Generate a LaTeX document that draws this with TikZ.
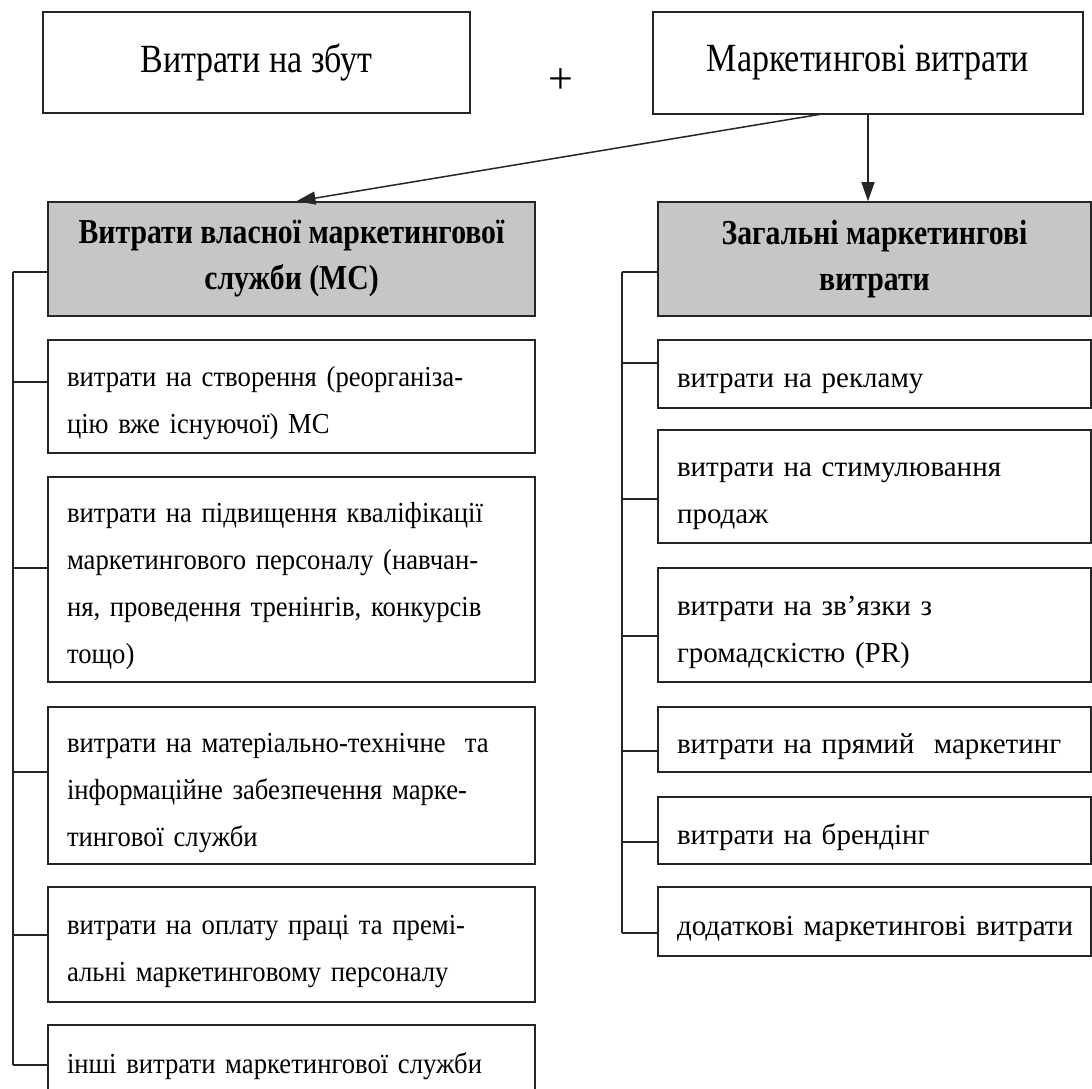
\documentclass[tikz,border=0pt]{standalone}
\usepackage{fontspec}
\setmainfont{Liberation Serif}
\newfontfamily\narrowserif{Liberation Serif}[FakeStretch=0.85]
\newfontfamily\itemnarrow{Liberation Serif}[FakeStretch=0.92]
\usetikzlibrary{arrows.meta,calc}
\definecolor{headgray}{RGB}{198,198,198}
\definecolor{ink}{RGB}{38,38,38}

% one unbreakable line of item text
\newcommand\itemline[1]{\mbox{#1}}

\tikzset{
  box/.style={draw=ink, line width=1.6pt, rectangle, inner sep=0pt},
  topbox/.style={box, font=\narrowserif\fontsize{40}{48}\selectfont, align=center},
  headbox/.style={box, fill=headgray, font=\narrowserif\bfseries\fontsize{35}{46}\selectfont, align=center},
  itembase/.style={box, align=left, inner xsep=19pt,
                   execute at begin node={\rule{0pt}{34pt}}},
  itemL/.style={itembase, font=\itemnarrow\fontsize{29}{47}\selectfont,
                text width=449pt, minimum width=487pt},
  itemR/.style={itembase, font=\fontsize{29}{47}\selectfont,
                text width=395pt, minimum width=433pt},
  link/.style={line width=1.5pt, draw=ink},
  arrowlink/.style={link, -{Triangle[length=19pt,width=13pt]}},
}

\begin{document}
\begin{tikzpicture}[x=1pt, y=-1pt]
\clip (0,0) rectangle (1092,1088);
\fill[white] (0,0) rectangle (1092,1088);

% top level
\node[topbox, minimum width=427pt, minimum height=101pt] (TL) at (256.5,62.5) {Витрати на збут};
\node[topbox, minimum width=430pt, minimum height=102pt] (TR) at (868,63) {Маркетингові витрати};
\node[font=\fontsize{44}{50}\selectfont] (plus) at (561,81) {+};

% group headers
\node[headbox, minimum width=487pt, minimum height=114pt] (LH) at (291.5,259)
  {Витрати власної маркетингової\\служби (МС)};
\node[headbox, minimum width=433pt, minimum height=114pt] (RH) at (874.5,259)
  {Загальні маркетингові\\витрати};

% arrows from the top box
\coordinate (mvfoot) at (822,114);
\draw[arrowlink] (mvfoot) -- ([xshift=5pt]LH.north);
\draw[arrowlink] (TR.south) -- (TR.south |- RH.north);

% left column items
\node[itemL, minimum height=113pt] (L1) at (291.5,396.5)
  {\itemline{витрати на створення (реорганіза-}\\\itemline{цію вже існуючої) МС}};
\node[itemL, minimum height=205pt] (L2) at (291.5,579.5)
  {\itemline{витрати на підвищення кваліфікації}\\\itemline{маркетингового персоналу (навчан-}\\\itemline{ня, проведення тренінгів, конкурсів}\\\itemline{тощо)}};
\node[itemL, minimum height=157pt] (L3) at (291.5,785.5)
  {\itemline{витрати на матеріально-технічне \ та}\\\itemline{інформаційне забезпечення марке-}\\\itemline{тингової служби}};
\node[itemL, minimum height=115pt] (L4) at (291.5,944.5)
  {\itemline{витрати на оплату праці та премі-}\\\itemline{альні маркетинговому персоналу}};
\node[itemL, minimum height=70pt] (L5) at (291.5,1060)
  {\itemline{інші витрати маркетингової служби}};

% right column items
\node[itemR, minimum height=68pt] (R1) at (874.5,374) {\itemline{витрати на рекламу}};
\node[itemR, minimum height=113pt] (R2) at (874.5,486.5) {\itemline{витрати на стимулювання}\\\itemline{продаж}};
\node[itemR, minimum height=114pt] (R3) at (874.5,625) {\itemline{витрати на зв’язки з}\\\itemline{громадскістю (PR)}};
\node[itemR, minimum height=65pt] (R4) at (874.5,739.5) {\itemline{витрати на прямий \ маркетинг}};
\node[itemR, minimum height=67pt] (R5) at (874.5,830.5) {\itemline{витрати на брендінг}};
\node[itemR, minimum height=69pt] (R6) at (874.5,921.5) {\itemline{додаткові маркетингові витрати}};

% left bracket
\coordinate (lt0) at (13,272);
\coordinate (lt1) at (13,382);
\coordinate (lt2) at (13,568);
\coordinate (lt3) at (13,772);
\coordinate (lt4) at (13,935);
\coordinate (lt5) at (13,1065);
\draw[link] (lt0) -- (lt5);
\draw[link] (lt0) -- (lt0 -| LH.west);
\draw[link] (lt1) -- (lt1 -| L1.west);
\draw[link] (lt2) -- (lt2 -| L2.west);
\draw[link] (lt3) -- (lt3 -| L3.west);
\draw[link] (lt4) -- (lt4 -| L4.west);
\draw[link] (lt5) -- (lt5 -| L5.west);

% right bracket
\coordinate (rt0) at (622,272);
\coordinate (rt1) at (622,363);
\coordinate (rt2) at (622,499);
\coordinate (rt3) at (622,636);
\coordinate (rt4) at (622,751);
\coordinate (rt5) at (622,842);
\coordinate (rt6) at (622,933);
\draw[link] (rt0) -- (rt6);
\draw[link] (rt0) -- (rt0 -| RH.west);
\draw[link] (rt1) -- (rt1 -| R1.west);
\draw[link] (rt2) -- (rt2 -| R2.west);
\draw[link] (rt3) -- (rt3 -| R3.west);
\draw[link] (rt4) -- (rt4 -| R4.west);
\draw[link] (rt5) -- (rt5 -| R5.west);
\draw[link] (rt6) -- (rt6 -| R6.west);
\end{tikzpicture}
\end{document}
